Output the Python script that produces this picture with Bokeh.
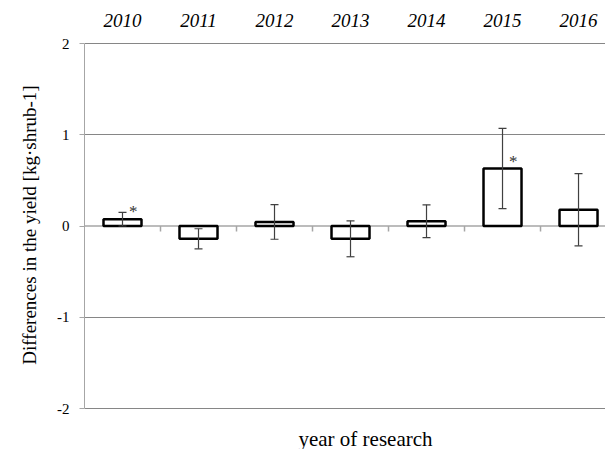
import numpy as np
from bokeh.plotting import figure
from bokeh.models import (Range1d, FixedTicker, Span, Whisker, TeeHead,
                          ColumnDataSource, Label)
from bokeh.core.properties import value
from bokeh.embed import file_html
from bokeh.resources import INLINE

# ---- data ----
years = ["2010", "2011", "2012", "2013", "2014", "2015", "2016"]
diff = [0.075, -0.14, 0.045, -0.14, 0.052, 0.63, 0.178]
err = [0.075, 0.11, 0.19, 0.197, 0.18, 0.44, 0.395]
signif = ["*", "", "", "", "", "*", ""]
y_ticks = [-2, -1, 0, 1, 2]
y_title = "Differences in the yield [kg\u00b7shrub-1]"
x_title = "year of research"

FONT = "Liberation Serif"

xs = np.arange(len(years)) + 0.5
src = ColumnDataSource(dict(
    x=xs, top=diff,
    upper=np.array(diff) + np.array(err),
    lower=np.array(diff) - np.array(err),
    sx=xs + 0.14, sig=signif,
))
ysrc = ColumnDataSource(dict(x=xs, y=[max(y_ticks)] * len(years), label=years))

W, H = 605, 449
# frame spans the full canvas height; the value axis is bounded to [-2, 2]
TOP_PX, BOT_PX = 43, 408
px_per_unit = (BOT_PX - TOP_PX) / (max(y_ticks) - min(y_ticks))
y_lo = min(y_ticks) - (H - BOT_PX) / px_per_unit
y_hi = max(y_ticks) + TOP_PX / px_per_unit
p = figure(width=W, height=H, output_backend="svg", toolbar_location=None,
           x_range=Range1d(0, 6.855), y_range=Range1d(y_lo, y_hi),
           x_axis_location=None, min_border_left=84, min_border_right=0,
           min_border_top=0, min_border_bottom=0)
p.outline_line_color = None
p.background_fill_color = "white"
p.border_fill_color = "white"

# grid
p.xgrid.visible = False
p.ygrid.ticker = FixedTicker(ticks=[t for t in y_ticks if t != 0])
p.ygrid.grid_line_color = "#868686"
p.ygrid.grid_line_width = 1

# left axis
ya = p.yaxis[0]
ya.bounds = (min(y_ticks), max(y_ticks))
ya.ticker = FixedTicker(ticks=y_ticks)
ya.major_label_overrides = {t: str(t) for t in y_ticks}
ya.axis_line_color = "#a6a6a6"
ya.major_tick_line_color = "#a6a6a6"
ya.major_tick_out = 5
ya.major_tick_in = 0
ya.minor_tick_line_color = None
ya.major_label_text_font = FONT
ya.major_label_text_font_size = "15px"
ya.major_label_text_color = "black"
ya.major_label_standoff = 10
ya.axis_label = y_title
ya.axis_label_text_font = FONT
ya.axis_label_text_font_size = "19px"
ya.axis_label_text_font_style = "normal"
ya.axis_label_text_color = "black"
ya.axis_label_standoff = 14

# year labels above the plot area
p.text(x="x", y="y", text="label", source=ysrc, text_font=value(FONT),
       text_font_size="19px", text_font_style="italic", text_color="black",
       text_align="center", text_baseline="middle", y_offset=-23)

# zero line with category-boundary ticks
p.add_layout(Span(location=0, dimension="width", line_color="#a6a6a6",
                  line_width=1.5, level="underlay"))
bounds = np.arange(1, len(years))
p.segment(x0=bounds, x1=bounds, y0=0, y1=-0.06, line_color="#a6a6a6", line_width=1.5)

# bars
p.vbar(x="x", top="top", bottom=0, width=0.5, source=src,
       fill_color="white", line_color="black", line_width=2.5)

# error bars
wh = Whisker(base="x", upper="upper", lower="lower", source=src,
             line_color="#404040", line_width=1.2,
             upper_head=TeeHead(size=8, line_color="#404040", line_width=1.2),
             lower_head=TeeHead(size=8, line_color="#404040", line_width=1.2),
             level="overlay")
p.add_layout(wh)

# significance marks
p.text(x="sx", y="top", text="sig", source=src, text_font=value(FONT),
       text_font_size="17px", text_color="#333333", text_align="center",
       text_baseline="bottom", y_offset=2)

# x title (screen units, relative to the plot frame)
p.add_layout(Label(x=281, y=11, x_units="screen", y_units="screen", text=x_title,
                   text_font=FONT, text_font_size="21px", text_color="black",
                   text_align="center", text_baseline="middle"))

open("out.html", "w").write(file_html(p, INLINE))
